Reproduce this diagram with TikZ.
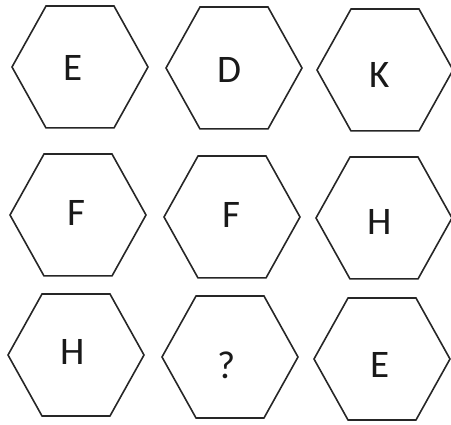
\documentclass[tikz,border=0pt]{standalone}
\usepackage{fontspec}
\setmainfont{Carlito}
\usetikzlibrary{shapes.geometric}

\begin{document}
\begin{tikzpicture}[
  x=1pt, y=-1pt,
  hexa/.style={regular polygon, regular polygon sides=6, draw=black!85,
    line width=1.6pt, minimum size=136pt, yscale=1.035,
    inner sep=0pt, outer sep=0pt},
  letter/.style={font=\fontsize{39}{41}\selectfont, text=black!90,
    inner sep=0pt, text depth=0pt}
]
  \useasboundingbox (0,0) rectangle (451,425);

  % hexagons, row by row
  \node[hexa] (h11) at (80,67) {};
  \node[hexa] (h12) at (234,68) {};
  \node[hexa] (h13) at (385,70) {};
  \node[hexa] (h21) at (78,215) {};
  \node[hexa] (h22) at (232,217) {};
  \node[hexa] (h23) at (384,218) {};
  \node[hexa] (h31) at (76,355) {};
  \node[hexa] (h32) at (230,357) {};
  \node[hexa] (h33) at (382,359) {};

  % letters
  \node[letter] (l11) at (73,68) {E};
  \node[letter] (l12) at (229,70) {D};
  \node[letter] (l13) at (380,75) {K};
  \node[letter] (l21) at (76,213) {F};
  \node[letter] (l22) at (231,215) {F};
  \node[letter] (l23) at (380,222) {H};
  \node[letter] (l31) at (73,352) {H};
  \node[letter] (l32) at (227,365) {?};
  \node[letter] (l33) at (380,365) {E};
\end{tikzpicture}
\end{document}
